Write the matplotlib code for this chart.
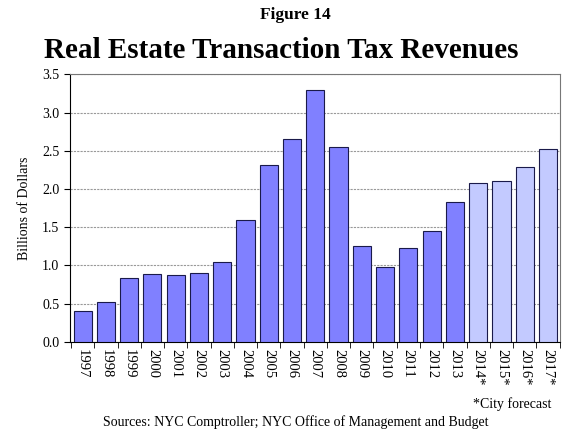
import matplotlib
matplotlib.use("Agg")
import matplotlib.pyplot as plt
import numpy as np

plt.rcParams['font.family'] = ['Liberation Serif', 'DejaVu Serif']

# data
years = ['1997', '1998', '1999', '2000', '2001', '2002', '2003', '2004', '2005', '2006',
         '2007', '2008', '2009', '2010', '2011', '2012', '2013', '2014*', '2015*', '2016*', '2017*']
revenues = [0.41, 0.52, 0.84, 0.89, 0.88, 0.90, 1.05, 1.59, 2.31, 2.65,
            3.30, 2.55, 1.26, 0.98, 1.23, 1.45, 1.83, 2.08, 2.10, 2.29, 2.52]
forecast = [False] * 17 + [True] * 4

fig = plt.figure(figsize=(5.63, 4.30), dpi=100)
ax = fig.add_axes([0.124, 0.205, 0.870, 0.622])

x = np.arange(len(years))
colors = ['#C3CAFF' if f else '#8080FF' for f in forecast]
ax.bar(x, revenues, width=0.78, color=colors, edgecolor='#1a1a4a', linewidth=0.8, zorder=3)

ax.set_xlim(-0.55, len(years) - 0.5)
ax.set_ylim(0, 3.5)
ax.set_yticks(np.arange(0, 3.51, 0.5))
ax.set_yticklabels(['{:.1f}'.format(v) for v in np.arange(0, 3.51, 0.5)], fontsize=10)
ax.yaxis.grid(True, color='#999999', linewidth=0.8, linestyle=(0, (2, 1)), zorder=0)
ax.set_xticks(x)
ax.set_xticklabels(years, rotation=270, fontsize=10.5)
ax.set_xticks(np.arange(-0.5, len(years), 1), minor=True)
ax.tick_params(axis='x', which='major', length=0, pad=5)
ax.tick_params(axis='x', which='minor', length=4, direction='out')
ax.tick_params(axis='y', length=4, direction='out')

ax.spines['left'].set_color('black')
ax.spines['bottom'].set_color('black')
ax.spines['top'].set_color('#777777')
ax.spines['right'].set_color('#777777')

ax.set_ylabel('Billions of Dollars', fontsize=10, labelpad=8)

fig.text(0.525, 0.955, 'Figure 14', ha='center', fontsize=12.5, fontweight='bold')
fig.text(0.50, 0.865, 'Real Estate Transaction Tax Revenues', ha='center', fontsize=21, fontweight='bold')
fig.text(0.98, 0.052, '*City forecast', ha='right', fontsize=10)
fig.text(0.525, 0.01, 'Sources: NYC Comptroller; NYC Office of Management and Budget', ha='center', fontsize=10)

fig.savefig('out.png', dpi=100)
